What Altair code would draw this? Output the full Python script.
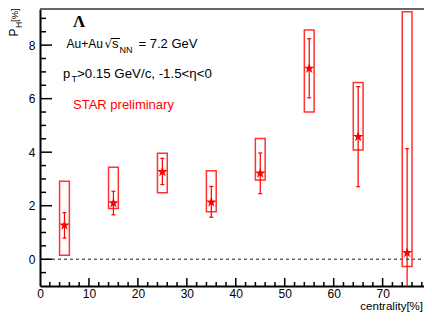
import altair as alt
import pandas as pd

# centrality bin centres (%)
cent = [5, 15, 25, 35, 45, 55, 65, 75]
# global Lambda polarization P_H (%)
ph = [1.27, 2.10, 3.27, 2.13, 3.21, 7.13, 4.58, 0.24]
# statistical error bar ends
stat_lo = [0.79, 1.66, 2.79, 1.57, 2.45, 6.03, 2.71, -3.65]
stat_hi = [1.74, 2.54, 3.77, 2.72, 3.97, 8.24, 6.45, 4.13]
# systematic box ends
sys_lo = [0.15, 1.90, 2.48, 1.77, 2.96, 5.50, 4.08, -0.27]
sys_hi = [2.91, 3.44, 3.96, 3.31, 4.51, 8.57, 6.60, 9.25]

x_ticks_major = [0, 10, 20, 30, 40, 50, 60, 70, 80]
x_ticks_minor = [v for v in range(2, 80, 2) if v % 10 != 0]
y_ticks_major = [0, 2, 4, 6, 8]
y_ticks_minor = [v / 2 for v in range(-1, 19) if v % 4 != 0]

W, H = 384, 277
FONT = "Liberation Sans"
RED = "#ff0000"

df = pd.DataFrame({"cent": cent, "ph": ph, "stat_lo": stat_lo, "stat_hi": stat_hi,
                   "sys_lo": sys_lo, "sys_hi": sys_hi})

xs = alt.Scale(domain=[0, 78.45], nice=False, zero=False)
ys = alt.Scale(domain=[-1, 9.35], nice=False, zero=False)

base = alt.Chart(df)

frame_axes = alt.Chart(pd.DataFrame({"v": [0]})).mark_point(opacity=0).encode(
    x=alt.X("v:Q", scale=xs, axis=alt.Axis(values=x_ticks_major, ticks=False, tickSize=0,
            labelPadding=2, labelFlush=False, labelBound=False, grid=False, title=None,
            domainColor="black", domainWidth=2, labelFont=FONT, labelFontSize=12,
            labelColor="black")),
    y=alt.Y("v:Q", scale=ys, axis=alt.Axis(values=y_ticks_major, ticks=False, tickSize=0,
            labelPadding=5, grid=False, title=None, domainColor="black", domainWidth=2,
            labelFont=FONT, labelFontSize=12, labelColor="black")),
)

top_frame = alt.Chart(pd.DataFrame({"y": [0]})).mark_rule(color="#666666", strokeWidth=2).encode(
    x=alt.value(0), x2=alt.value(W), y=alt.value(0))

zero_line = alt.Chart(pd.DataFrame({"y": [0]})).mark_rule(
    color="#666666", strokeDash=[3, 3], strokeWidth=1.5).encode(
    x=alt.datum(0, scale=xs), x2=alt.datum(80), y=alt.Y("y:Q", scale=ys))

boxes = base.transform_calculate(
    xl="datum.cent - 1", xr="datum.cent + 1").mark_rect(
    fillOpacity=0, stroke="#ff3333", strokeWidth=1.5, clip=True).encode(
    x=alt.X("xl:Q", scale=xs), x2="xr:Q",
    y=alt.Y("sys_lo:Q", scale=ys), y2="sys_hi:Q")

bars = base.mark_rule(color=RED, strokeWidth=1.2, clip=True).encode(
    x=alt.X("cent:Q", scale=xs), y=alt.Y("stat_lo:Q", scale=ys), y2="stat_hi:Q")

caps_lo = base.mark_tick(orient="horizontal", size=4, thickness=1.2, color=RED,
                         opacity=1, clip=True).encode(
    x=alt.X("cent:Q", scale=xs), y=alt.Y("stat_lo:Q", scale=ys))
caps_hi = base.mark_tick(orient="horizontal", size=4, thickness=1.2, color=RED,
                         opacity=1, clip=True).encode(
    x=alt.X("cent:Q", scale=xs), y=alt.Y("stat_hi:Q", scale=ys))

STAR = ("M0,-1L0.2234,-0.3074L0.951,-0.309L0.3614,0.1174L0.588,0.809L0,0.38"
        "L-0.588,0.809L-0.3614,0.1174L-0.951,-0.309L-0.2234,-0.3074Z")
stars = base.mark_point(shape=STAR, filled=True, color=RED, size=125, opacity=1).encode(
    x=alt.X("cent:Q", scale=xs), y=alt.Y("ph:Q", scale=ys))

yt_maj = alt.Chart(pd.DataFrame({"y": y_ticks_major})).mark_rule(color="black", strokeWidth=1.5).encode(
    y=alt.Y("y:Q", scale=ys), x=alt.value(0), x2=alt.value(12))
yt_min = alt.Chart(pd.DataFrame({"y": y_ticks_minor})).mark_rule(color="black", strokeWidth=1.5).encode(
    y=alt.Y("y:Q", scale=ys), x=alt.value(0), x2=alt.value(6))
xt_maj = alt.Chart(pd.DataFrame({"x": x_ticks_major})).mark_rule(color="black", strokeWidth=1.5, clip=True).encode(
    x=alt.X("x:Q", scale=xs), y=alt.value(H), y2=alt.value(H - 8))
xt_min = alt.Chart(pd.DataFrame({"x": x_ticks_minor})).mark_rule(color="black", strokeWidth=1.5, clip=True).encode(
    x=alt.X("x:Q", scale=xs), y=alt.value(H), y2=alt.value(H - 4))


def label(text, x, y, size=13, color="black", font=FONT, weight="normal", angle=0, align="left"):
    return alt.Chart(pd.DataFrame({"t": [text]})).mark_text(
        align=align, baseline="alphabetic", fontSize=size, color=color, font=font,
        fontWeight=weight, angle=angle).encode(
        x=alt.value(x), y=alt.value(y), text="t:N")


texts = [
    label("Λ", 33, 17.5, size=17, font="Liberation Serif", weight="bold"),
    label("Au+Au", 26.5, 39.3, size=12),
    label("√", 64.5, 39.3, size=12, font="DejaVu Sans"),
    label("s", 72, 39.3, size=13),
    label("NN", 79.5, 44, size=9),
    label("= 7.2 GeV", 98.5, 39.3, size=13),
    label("p", 23, 69, size=13),
    label("T", 31.5, 73, size=9),
    label(">0.15 GeV/c, -1.5<η<0", 37, 69, size=13.3),
    label("STAR preliminary", 33, 99.5, size=13, color=RED),
    label("centrality[%]", 383, 301, size=11.5, align="right"),
    label("P", -22, 27.5, size=12, angle=270),
    label("H", -18, 19, size=8.5, angle=270),
    label("[%]", -22, 13, size=9.5, angle=270),
]

overline = alt.Chart(pd.DataFrame({"y": [0]})).mark_rule(color="black", strokeWidth=1).encode(
    x=alt.value(71), x2=alt.value(80), y=alt.value(29.5))

chart = alt.layer(
    frame_axes, top_frame, zero_line, boxes, bars, caps_lo, caps_hi, stars,
    yt_maj, yt_min, xt_maj, xt_min, overline, *texts
).properties(
    width=W, height=H,
    autosize=alt.AutoSizeParams(type="none"),
    padding={"left": 32, "top": 1, "right": 0, "bottom": 26},
).configure_view(strokeWidth=0)

chart.save("out.html", embed_options={"renderer": "svg", "actions": False})
